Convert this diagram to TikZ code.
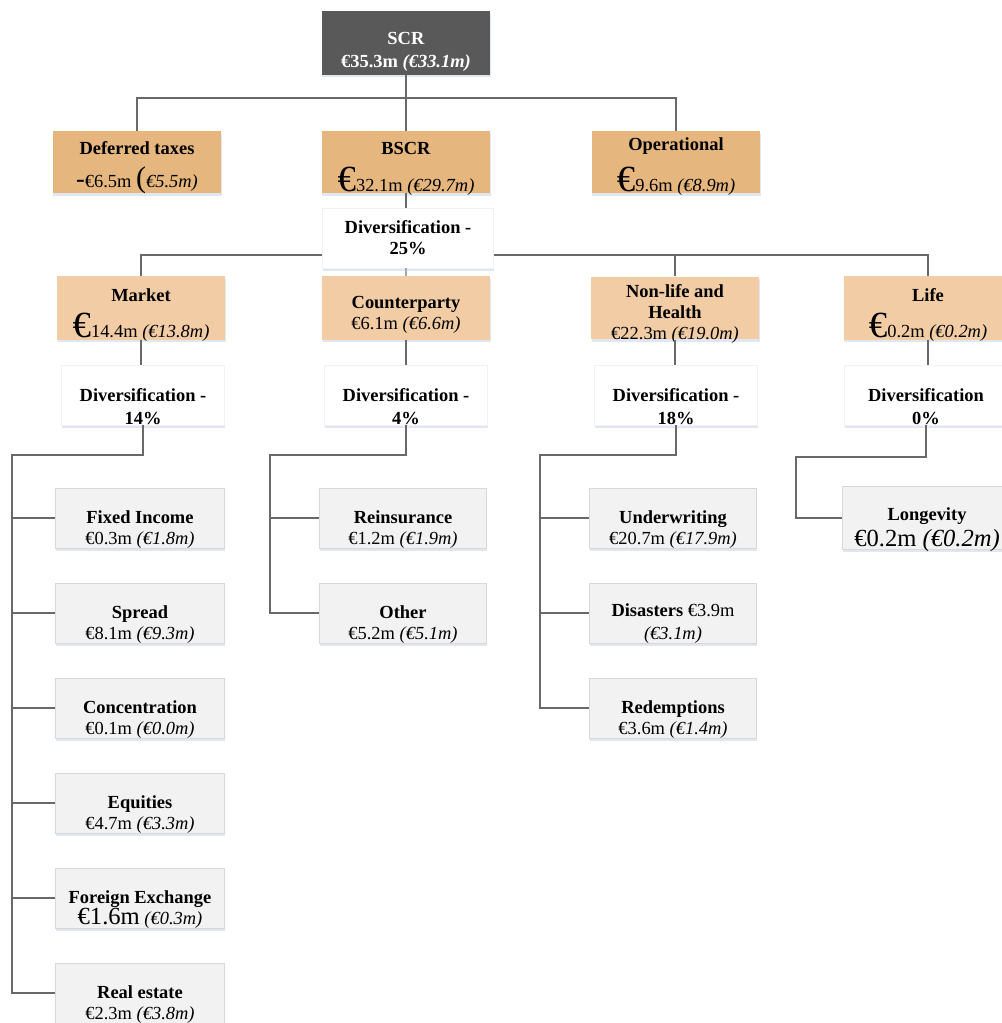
\documentclass[tikz,border=0pt]{standalone}
\usepackage{fontspec}
\setmainfont{Liberation Serif}
\usetikzlibrary{positioning,shadows}

\definecolor{scrgray}{RGB}{89,89,89}
\definecolor{topfill}{RGB}{229,182,126}
\definecolor{subfill}{RGB}{241,204,164}
\definecolor{leaffill}{RGB}{242,242,242}
\definecolor{leafline}{RGB}{216,216,216}
\definecolor{linegray}{RGB}{105,105,105}
\definecolor{shadowblue}{RGB}{170,185,215}

\newcommand{\bigeur}{{\fontsize{21}{21}\selectfont €}}

\begin{document}
\begin{tikzpicture}[x=0.02cm,y=-0.02cm,
    font=\fontsize{10.5}{12}\selectfont,
    conn/.style={draw=linegray, line width=1.1pt},
    tpos/.style 2 args={text height=#1, text depth=#2, inner ysep=0pt},
    basebox/.style={rectangle, align=center, inner xsep=2pt,
        drop shadow={shadow xshift=0.5pt, shadow yshift=-1.6pt, opacity=0.35, fill=shadowblue}},
    topbox/.style={basebox, fill=topfill, minimum width=3.38cm, minimum height=1.24cm, tpos={34.5pt}{0.8pt}},
    subbox/.style={basebox, fill=subfill, minimum width=3.36cm, minimum height=1.26cm},
    divbox/.style={basebox, fill=white, draw=leaffill, minimum width=3.26cm, minimum height=1.2cm,
        font=\fontsize{10.5}{12}\selectfont\bfseries, tpos={34pt}{0pt}},
    leafbox/.style={basebox, fill=leaffill, draw=leafline, line width=0.4pt, minimum width=3.38cm,
        minimum height=1.2cm, tpos={32.3pt}{1.8pt}}]
    \useasboundingbox (0,0) rectangle (1001,1023);

    % top of the tree
    \node[topbox, fill=scrgray, text=white, minimum height=1.26cm, tpos={31.9pt}{4pt}] (scr) at (406,43)
        {\textbf{SCR}\\[1pt]\textbf{€35.3m \textit{(€33.1m)}}};
    \node[topbox, tpos={32.4pt}{2.9pt}] (deferred) at (137,162)
        {\textbf{Deferred taxes}\\[7pt]{\fontsize{15}{15}\selectfont-}€6.5m {\fontsize{17}{17}\selectfont(}\textit{€5.5m)}};
    \node[topbox] (bscr) at (406,162) {\textbf{BSCR}\\[6pt]\bigeur32.1m \textit{(€29.7m)}};
    \node[topbox] (oper) at (676,162) {\textbf{Operational}\\[6pt]\bigeur9.6m \textit{(€8.9m)}};
    \node[divbox, minimum width=3.42cm, tpos={26.7pt}{7.4pt}] (div25) at (408,238) {Diversification -\\25\%};

    % risk modules
    \node[subbox, tpos={34.7pt}{1.2pt}] (market) at (141,308) {\textbf{Market}\\[5.5pt]\bigeur14.4m \textit{(€13.8m)}};
    \node[subbox, tpos={30.1pt}{5.8pt}] (counter) at (406,308) {\textbf{Counterparty}\\€6.1m \textit{(€6.6m)}};
    \node[subbox, tpos={35.8pt}{0pt}] (nonlife) at (675,308)
        {\textbf{Non-life and}\\\textbf{Health}\\€22.3m \textit{(€19.0m)}};
    \node[subbox, minimum width=3.38cm, tpos={34.7pt}{1.2pt}] (life) at (928,308)
        {\textbf{Life}\\[5.5pt]\bigeur0.2m \textit{(€0.2m)}};

    % diversification per module
    \node[divbox] (divmarket) at (143,395) {Diversification -\\[1.5pt]14\%};
    \node[divbox] (divcounter) at (406,395) {Diversification -\\[1.5pt]4\%};
    \node[divbox] (divnonlife) at (676,395) {Diversification -\\[1.5pt]18\%};
    \node[divbox] (divlife) at (926,395) {Diversification\\[1.5pt]0\%};

    % market sub-modules
    \node[leafbox] (fixinc) at (140,518) {\textbf{Fixed Income}\\€0.3m \textit{(€1.8m)}};
    \node[leafbox] (spread) at (140,613) {\textbf{Spread}\\€8.1m \textit{(€9.3m)}};
    \node[leafbox] (conc) at (140,708) {\textbf{Concentration}\\€0.1m \textit{(€0.0m)}};
    \node[leafbox] (equit) at (140,803) {\textbf{Equities}\\€4.7m \textit{(€3.3m)}};
    \node[leafbox] (forex) at (140,898)
        {\textbf{Foreign Exchange}\\{\fontsize{14}{14}\selectfont €1.6m} \textit{(€0.3m)}};
    \node[leafbox] (realest) at (140,993) {\textbf{Real estate}\\€2.3m \textit{(€3.8m)}};

    % counterparty sub-modules
    \node[leafbox, minimum width=3.34cm] (reins) at (403,518) {\textbf{Reinsurance}\\€1.2m \textit{(€1.9m)}};
    \node[leafbox, minimum width=3.34cm] (other) at (403,613) {\textbf{Other}\\€5.2m \textit{(€5.1m)}};

    % non-life sub-modules
    \node[leafbox, minimum width=3.34cm] (underw) at (673,518) {\textbf{Underwriting}\\€20.7m \textit{(€17.9m)}};
    \node[leafbox, minimum width=3.34cm] (disast) at (673,613) {\textbf{Disasters} €3.9m\\[1pt]\textit{(€3.1m)}};
    \node[leafbox, minimum width=3.34cm] (redemp) at (673,708) {\textbf{Redemptions}\\€3.6m \textit{(€1.4m)}};

    % life sub-modules
    \node[leafbox, minimum height=1.26cm, tpos={34.2pt}{1.7pt}] (longev) at (927,518)
        {\textbf{Longevity}\\[2pt]{\fontsize{14}{14}\selectfont €0.2m \textit{(€0.2m)}}};

    % connectors, top levels
    \coordinate (topbar) at (406,98);
    \coordinate (midbar) at (406,255);
    \draw[conn] (scr.south) -- (bscr.north);
    \draw[conn] (deferred.north) |- (topbar) -| (oper.north);
    \draw[conn] (bscr.south) -- (bscr.south |- div25.north);
    \draw[conn, draw=shadowblue!80!linegray] (counter.north |- div25.south) -- (counter.north);
    \draw[conn] (market.north) |- (div25.west |- midbar);
    \draw[conn] (div25.east |- midbar) -| (nonlife.north);
    \draw[conn] (div25.east |- midbar) -| (life.north);

    % connectors, modules to diversification
    \foreach \m/\d in {market/divmarket, counter/divcounter, nonlife/divnonlife, life/divlife}
        \draw[conn] (\m.south) -- (\m.south |- \d.north);

    % trunks
    \coordinate (mtrunk) at (12,455);
    \coordinate (ctrunk) at (270,455);
    \coordinate (ntrunk) at (540,455);
    \coordinate (ltrunk) at (796,457);
    \draw[conn] (divmarket.south) |- (mtrunk) |- (realest.west);
    \foreach \n in {fixinc, spread, conc, equit, forex}
        \draw[conn] (mtrunk |- \n.west) -- (\n.west);
    \draw[conn] (divcounter.south) |- (ctrunk) |- (other.west);
    \draw[conn] (ctrunk |- reins.west) -- (reins.west);
    \draw[conn] (divnonlife.south) |- (ntrunk) |- (redemp.west);
    \foreach \n in {underw, disast}
        \draw[conn] (ntrunk |- \n.west) -- (\n.west);
    \draw[conn] (divlife.south) |- (ltrunk) |- (longev.west);
\end{tikzpicture}
\end{document}
